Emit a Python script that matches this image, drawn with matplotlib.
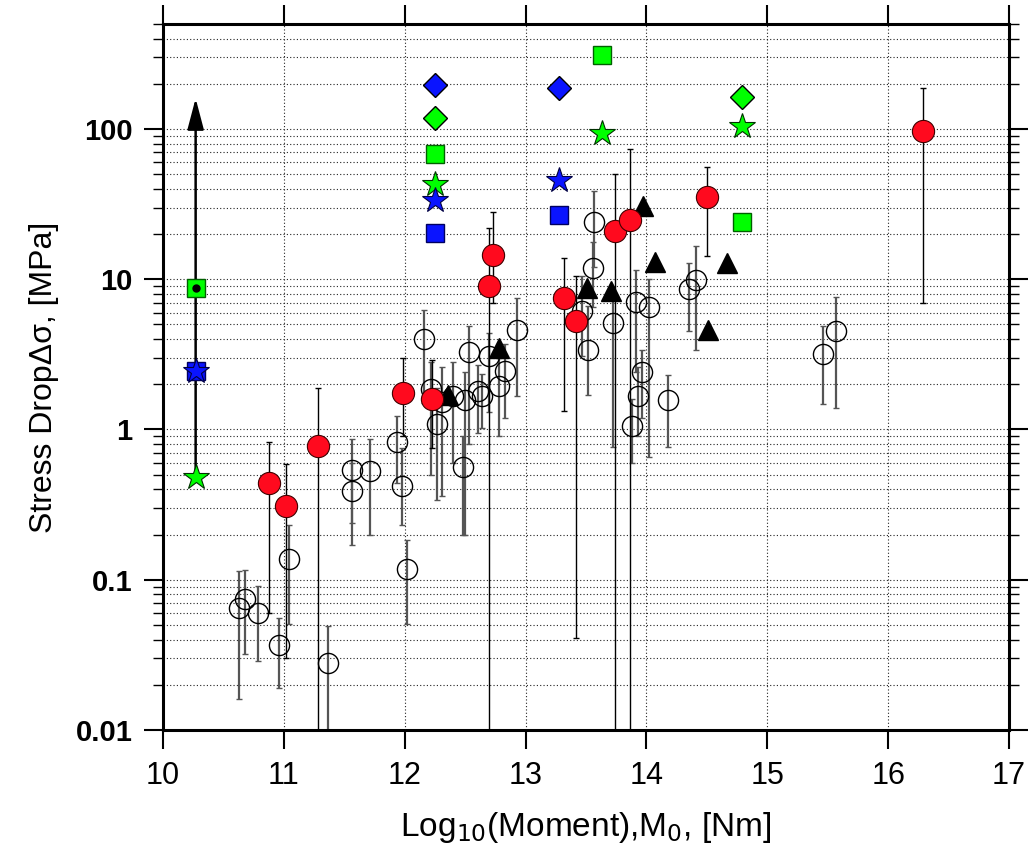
import matplotlib
matplotlib.use("Agg")
import matplotlib.pyplot as plt
from matplotlib.ticker import LogLocator, FixedLocator, NullFormatter, FixedFormatter
import numpy as np

plt.rcParams['font.family'] = ['Liberation Sans', 'DejaVu Sans']

# open circles: log10 moment, stress drop, lower / upper bound
oc_x = [10.63, 10.68, 10.79, 10.96, 11.04, 11.365, 11.56, 11.56, 11.71, 11.94, 11.98, 12.02,
        12.16, 12.22, 12.27, 12.31, 12.40, 12.48, 12.50, 12.53, 12.61, 12.64, 12.70, 12.78,
        12.83, 12.93, 13.47, 13.52, 13.56, 13.57, 13.72, 13.88, 13.91, 13.93, 13.96, 14.02,
        14.18, 14.35, 14.41, 15.46, 15.57]
oc_y = [0.065, 0.075, 0.060, 0.037, 0.138, 0.028, 0.54, 0.39, 0.53, 0.82, 0.42, 0.118,
        4.0, 1.87, 1.09, 1.52, 1.66, 0.56, 1.58, 3.3, 1.8, 1.66, 3.1, 1.94,
        2.45, 4.6, 6.1, 3.4, 11.8, 24, 5.1, 1.05, 7.1, 1.67, 2.4, 6.5,
        1.57, 8.6, 9.9, 3.2, 4.5]
oc_lo = [0.016, 0.032, 0.029, 0.019, 0.051, 0.0001, 0.24, 0.17, 0.20, 0.44, 0.23, 0.051,
         1.5, 0.5, 0.34, 0.36, 0.6, 0.2, 0.2, 0.8, 0.95, 1.03, 1.3, 0.9,
         1.2, 1.66, 3.1, 1.7, 6.5, 12, 0.76, 0.6, 2.4, 0.9, 1.2, 0.66,
         0.77, 4.5, 3.4, 1.47, 1.4]
oc_hi = [0.115, 0.116, 0.091, 0.056, 0.23, 0.049, 0.86, 0.60, 0.87, 1.23, 0.75, 0.184,
         6.2, 2.8, 1.9, 2.6, 2.8, 0.91, 2.4, 4.9, 2.7, 2.33, 4.4, 3.0,
         3.7, 7.5, 10.5, 6.6, 17.6, 38.6, 8.0, 1.6, 11.5, 2.6, 3.4, 10,
         2.3, 12.8, 16.6, 4.9, 7.6]

# red circles
rd_x = [10.88, 11.02, 11.28, 11.985, 12.225, 12.70, 12.73, 13.32, 13.42, 13.74, 13.86, 14.50, 16.29]
rd_y = [0.44, 0.31, 0.78, 1.74, 1.6, 9.0, 14.5, 7.5, 5.3, 20.9, 24.7, 35, 97]
rd_lo = [0.06, 0.030, 0.0001, 0.9, 0.75, 0.0001, 7, 1.32, 0.041, 0.0001, 0.0001, 14.2, 7.0]
rd_hi = [0.82, 0.59, 1.9, 3.0, 2.9, 21.9, 28, 13.8, 10.5, 50, 74, 56, 188]

# black triangles
tr_x = [12.36, 12.78, 13.51, 13.71, 13.97, 14.07, 14.51, 14.67]
tr_y = [1.69, 3.5, 8.7, 8.3, 30.6, 13, 4.6, 12.8]

# coloured symbols
bd_x, bd_y = [12.25, 13.28], [196, 188]
gd_x, gd_y = [12.25, 14.79], [118, 163]
gs_x, gs_y = [10.27, 12.25, 13.63, 14.79], [8.7, 68, 311, 24]
bs_x, bs_y = [10.27, 12.25, 13.28], [2.45, 20.3, 26.7]
gst_x, gst_y = [10.27, 12.25, 13.63, 14.79], [0.48, 43, 94, 105]
bst_x, bst_y = [10.27, 12.25, 13.28], [2.45, 33.6, 46]

# arrow (lower limit) at the left
arr_x, arr_lo, arr_hi, arr_dot = 10.27, 0.48, 160, 8.7

xticks = [10, 11, 12, 13, 14, 15, 16, 17]
yticks = [0.01, 0.1, 1, 10, 100]
ytick_labels = ['0.01', '0.1', '1', '10', '100']

fig = plt.figure(figsize=(10.33, 8.5), dpi=100)
ax = fig.add_axes([0.1578, 0.1412, 0.8190, 0.8306])
ax.set_yscale('log')
ax.set_xlim(10, 17)
ax.set_ylim(0.01, 500)

ax.grid(True, which='both', axis='y', linestyle=(0, (1, 2)), color='#222222', linewidth=0.8)
ax.grid(True, which='major', axis='x', linestyle=(0, (1, 2)), color='#222222', linewidth=0.8)
ax.set_axisbelow(True)

def err(y, lo, hi):
    y = np.array(y); lo = np.array(lo); hi = np.array(hi)
    return [y - lo, hi - y]

ax.errorbar(oc_x, oc_y, yerr=err(oc_y, oc_lo, oc_hi), fmt='none', ecolor='#555555',
            elinewidth=1.6, capsize=2.5, capthick=1.0, zorder=2)
ax.plot(oc_x, oc_y, 'o', ms=14.5, mfc='none', mec='black', mew=1.0, zorder=3)

ax.errorbar(rd_x, rd_y, yerr=err(rd_y, rd_lo, rd_hi), fmt='none', ecolor='black',
            elinewidth=1.0, capsize=2.5, capthick=1.0, zorder=4)
ax.plot(tr_x, tr_y, '^', ms=15, color='black', zorder=5)
ax.plot(rd_x, rd_y, 'o', ms=16, mfc='#ff0a1e', mec='#400000', mew=0.8, zorder=6)

ax.annotate('', xy=(arr_x, arr_hi), xytext=(arr_x, arr_lo),
            arrowprops=dict(arrowstyle='-|>,head_length=1.9,head_width=0.5',
                            color='black', lw=1.8, shrinkA=0, shrinkB=0), zorder=7)

ax.plot(gs_x, gs_y, 's', ms=13, mfc='#00ff00', mec='#006000', mew=1.0, zorder=8)
ax.plot(bs_x, bs_y, 's', ms=13, mfc='#0a14ff', mec='#000060', mew=1.0, zorder=8)
ax.plot(gd_x, gd_y, 'D', ms=12, mfc='#00ff00', mec='black', mew=1.0, zorder=8)
ax.plot(bd_x, bd_y, 'D', ms=12, mfc='#0a14ff', mec='black', mew=1.0, zorder=8)
ax.plot(gst_x, gst_y, '*', ms=19, mfc='#00ff00', mec='#003000', mew=0.8, zorder=9)
ax.plot(bst_x, bst_y, '*', ms=19, mfc='#0a14ff', mec='#000040', mew=0.8, zorder=10)
ax.plot([arr_x], [arr_dot], 'o', ms=5, color='black', zorder=11)

for s in ax.spines.values():
    s.set_linewidth(2.2)

ax.xaxis.set_major_locator(FixedLocator(xticks))
ax.set_xticklabels([str(t) for t in xticks], fontsize=22)
ax.yaxis.set_major_locator(FixedLocator(yticks))
ax.yaxis.set_major_formatter(FixedFormatter(ytick_labels))
ax.yaxis.set_minor_locator(LogLocator(base=10, subs=np.arange(2, 10)))
ax.yaxis.set_minor_formatter(NullFormatter())
for lab in ax.get_yticklabels():
    lab.set_fontsize(21)
    lab.set_fontweight('bold')

ax.tick_params(axis='both', which='major', direction='out', length=14, width=1.5,
               top=True, right=True, pad=8)
ax.tick_params(axis='y', which='minor', direction='out', length=7, width=1.0,
               left=True, right=True)
ax.tick_params(axis='x', which='minor', bottom=False, top=False)

ax.set_xlabel('Log$_{10}$(Moment),M$_0$, [Nm]', fontsize=24, labelpad=14)
ax.set_ylabel('Stress DropΔσ, [MPa]', fontsize=23, labelpad=12)

fig.savefig('out.png', dpi=100)
